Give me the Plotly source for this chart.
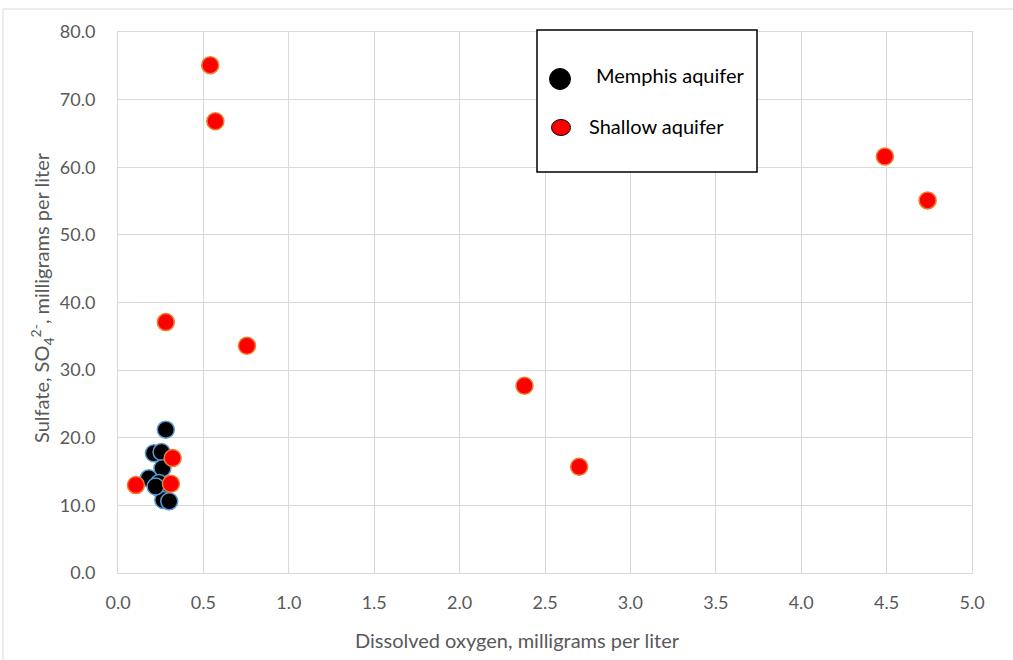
import plotly.graph_objects as go

# Data
memphis_do = [0.28, 0.21, 0.255, 0.26, 0.18, 0.24, 0.25, 0.265, 0.30, 0.22]
memphis_so4 = [21.2, 17.7, 17.9, 15.5, 14.0, 13.3, 12.3, 10.8, 10.6, 12.8]
shallow_do = [0.54, 0.57, 0.28, 0.755, 2.38, 2.70, 4.49, 4.74, 0.32, 0.31, 0.105]
shallow_so4 = [75.1, 66.8, 37.1, 33.6, 27.7, 15.7, 61.6, 55.1, 17.0, 13.2, 13.0]

x_ticks = [0.0, 0.5, 1.0, 1.5, 2.0, 2.5, 3.0, 3.5, 4.0, 4.5, 5.0]
y_ticks = [0, 10, 20, 30, 40, 50, 60, 70, 80]

W, H = 1013, 660
L, R, T, B = 118, 41, 32, 87
pw, ph = W - L - R, H - T - B

def px(x):
    return (x - L) / pw

def py(y):
    return (H - B - y) / ph

fig = go.Figure()
fig.add_trace(go.Scatter(
    x=memphis_do, y=memphis_so4, mode="markers", name="Memphis aquifer",
    marker=dict(size=17, color="black", line=dict(color="#5B9BD5", width=1.5)),
))
fig.add_trace(go.Scatter(
    x=shallow_do, y=shallow_so4, mode="markers", name="Shallow aquifer",
    marker=dict(size=17, color="#FF0000", line=dict(color="#ED7D31", width=1.5)),
))

font = "Lato, 'Open Sans', sans-serif"
grid = "#D9D9D9"

fig.update_layout(
    width=W, height=H,
    margin=dict(l=L, r=R, t=T, b=B),
    plot_bgcolor="white", paper_bgcolor="white",
    showlegend=False,
    font=dict(family=font, color="#595959", size=18),
    xaxis=dict(
        range=[0, 5], tickvals=x_ticks, ticktext=[f"{v:.1f}" for v in x_ticks],
        showgrid=True, gridcolor=grid, gridwidth=1,
        showline=True, linecolor=grid, mirror=True, zeroline=False,
        ticks="", ticklabelstandoff=13,
    ),
    yaxis=dict(
        range=[0, 80], tickvals=y_ticks, ticktext=[f"{v:.1f}" for v in y_ticks],
        showgrid=True, gridcolor=grid, gridwidth=1,
        showline=True, linecolor=grid, mirror=True, zeroline=False,
        ticks="", ticklabelstandoff=18,
    ),
)

shapes = []
# outer chart border
shapes.append(dict(type="rect", xref="paper", yref="paper",
                   x0=px(3), x1=px(1030), y0=py(680), y1=py(9),
                   line=dict(color="#D9D9D9", width=1), fillcolor="rgba(0,0,0,0)", layer="below"))
# legend box
shapes.append(dict(type="rect", xref="paper", yref="paper",
                   x0=px(537), x1=px(757), y0=py(172), y1=py(30),
                   line=dict(color="black", width=1.5), fillcolor="white"))
# legend markers
shapes.append(dict(type="circle", xref="paper", yref="paper",
                   x0=px(549.5), x1=px(570.5), y0=py(89.5), y1=py(68.5),
                   line=dict(color="black", width=1), fillcolor="black"))
shapes.append(dict(type="circle", xref="paper", yref="paper",
                   x0=px(551.5), x1=px(570.5), y0=py(135.5), y1=py(119.5),
                   line=dict(color="black", width=1), fillcolor="#FF0000"))
fig.update_layout(shapes=shapes)

fig.add_annotation(xref="paper", yref="paper", x=px(594), y=py(75), xanchor="left",
                   yanchor="middle", showarrow=False, text="Memphis aquifer",
                   font=dict(family=font, size=20, color="black"))
fig.add_annotation(xref="paper", yref="paper", x=px(587), y=py(126), xanchor="left",
                   yanchor="middle", showarrow=False, text="Shallow aquifer",
                   font=dict(family=font, size=20, color="black"))

# axis titles
fig.add_annotation(xref="paper", yref="paper", x=px(517), y=py(640), xanchor="center",
                   yanchor="middle", showarrow=False,
                   text="Dissolved oxygen, milligrams per liter",
                   font=dict(family=font, size=20, color="#595959"))
fig.add_annotation(xref="paper", yref="paper", x=px(42), y=py(298), xanchor="center",
                   yanchor="middle", showarrow=False, textangle=-90,
                   text="Sulfate, SO<sub>4</sub><sup>2-</sup>, milligrams per liter",
                   font=dict(family=font, size=20, color="#595959"))

fig.write_html("out.html", config={"displayModeBar": False},
               post_script="document.body.style.margin='0';")
